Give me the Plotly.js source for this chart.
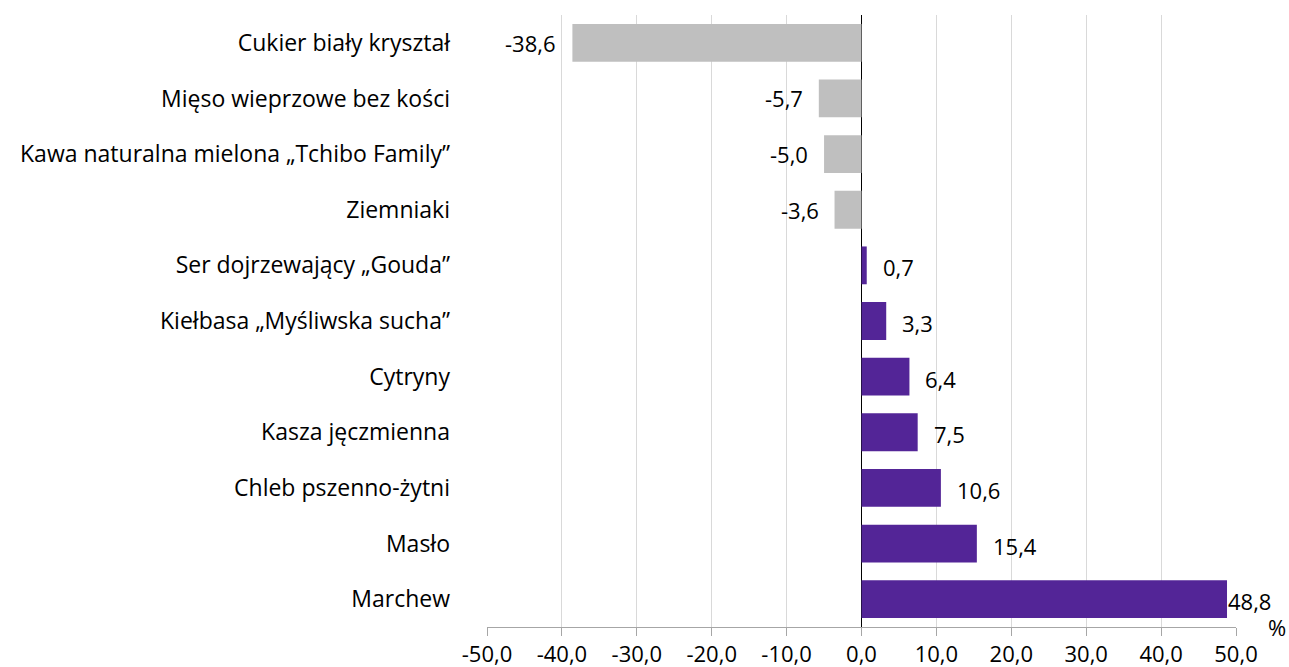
<!DOCTYPE html>
<html>
<head>
<meta charset="utf-8">
<script src="https://cdn.plot.ly/plotly-3.0.1.min.js"></script>
<style>html,body{margin:0;padding:0;background:#fff;}#chart{width:1289px;height:667px;}</style>
</head>
<body>
<div id="chart"></div>
<script>
const categories = [
  "Cukier biały kryształ",
  "Mięso wieprzowe bez kości",
  "Kawa naturalna mielona „Tchibo Family”",
  "Ziemniaki",
  "Ser dojrzewający „Gouda”",
  "Kiełbasa „Myśliwska sucha”",
  "Cytryny",
  "Kasza jęczmienna",
  "Chleb pszenno-żytni",
  "Masło",
  "Marchew"
];
const values = [-38.6, -5.7, -5.0, -3.6, 0.7, 3.3, 6.4, 7.5, 10.6, 15.4, 48.8];
const tickVals = [-50, -40, -30, -20, -10, 0, 10, 20, 30, 40, 50];
const tickLabels = ["-50,0", "-40,0", "-30,0", "-20,0", "-10,0", "0,0", "10,0", "20,0", "30,0", "40,0", "50,0"];

const fmt = v => v.toFixed(1).replace('.', ',');
const colors = values.map(v => v < 0 ? '#BFBFBF' : '#532597');
const FONT = '"Open Sans", "Noto Sans", sans-serif';
const FS_CAT = 23;
const FS_NUM = 22;
const XMAX = 50;

const trace = {
  type: 'bar',
  orientation: 'h',
  y: categories,
  x: values,
  marker: { color: colors, line: { width: 0 } },
  hoverinfo: 'none'
};

const labelAnns = values.map((v, i) => {
  const nearEdge = v > XMAX - 5;
  return {
    x: v, y: categories[i],
    xref: 'x', yref: 'y',
    text: fmt(v),
    showarrow: false,
    xanchor: v < 0 ? 'right' : 'left',
    yanchor: 'middle',
    xshift: v < 0 ? -14 : (nearEdge ? -1 : 14),
    yshift: v < 0 ? 0 : -2,
    font: { family: FONT, size: FS_NUM, color: '#000' }
  };
});

const layout = {
  width: 1289,
  height: 667,
  margin: { l: 487, r: 53, t: 15, b: 40 },
  paper_bgcolor: '#fff',
  plot_bgcolor: '#fff',
  showlegend: false,
  bargap: 0.32,
  font: { family: FONT, size: FS_NUM, color: '#000' },
  xaxis: {
    range: [-50, 50],
    tickvals: tickVals,
    ticktext: tickLabels,
    showgrid: true,
    gridcolor: '#D9D9D9',
    gridwidth: 1,
    zeroline: true,
    zerolinecolor: '#000',
    zerolinewidth: 1,
    showline: true,
    linecolor: '#A6A6A6',
    linewidth: 1,
    ticks: 'outside',
    ticklen: 8,
    tickcolor: '#A6A6A6',
    tickfont: { family: FONT, size: FS_NUM, color: '#000' },
    fixedrange: true
  },
  yaxis: {
    type: 'category',
    autorange: 'reversed',
    showgrid: false,
    zeroline: false,
    showline: false,
    ticks: '',
    ticklabelstandoff: 36,
    tickfont: { family: FONT, size: FS_CAT, color: '#000' },
    fixedrange: true
  },
  annotations: labelAnns.concat([{
    text: '%',
    xref: 'paper', yref: 'paper',
    x: 1.055, y: 0,
    xanchor: 'center', yanchor: 'middle',
    showarrow: false,
    font: { family: FONT, size: FS_NUM, color: '#000' }
  }])
};

Plotly.newPlot('chart', [trace], layout, { displayModeBar: false, staticPlot: true });
</script>
</body>
</html>
